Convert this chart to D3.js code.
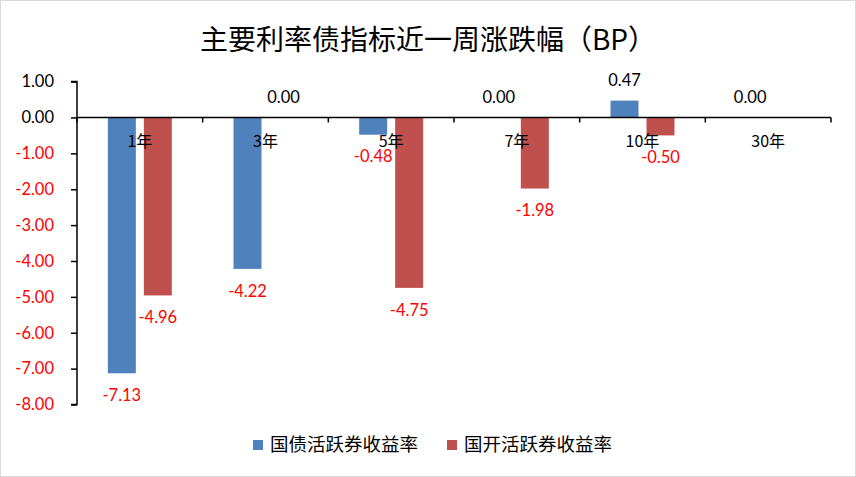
<!DOCTYPE html>
<html><head><meta charset="utf-8">
<script src="https://cdn.jsdelivr.net/npm/d3@7"></script>
<style>
body{margin:0;background:#fff;}
svg{display:block;}
</style></head>
<body>
<svg id="chart" width="856" height="477"></svg>
<script>
const categories = ["1年","3年","5年","7年","10年","30年"];
const seriesNames = ["国债活跃券收益率","国开活跃券收益率"];
const govBond = [-7.13, -4.22, -0.48, 0.00, 0.47, 0.00];
const cdbBond = [-4.96, 0.00, -4.75, -1.98, -0.50, null];
const yTicks = [1,0,-1,-2,-3,-4,-5,-6,-7,-8];
const title = "主要利率债指标近一周涨跌幅（BP）";
const colors = ["#4f81bd", "#c0504d"];

const svg = d3.select("#chart");
const W = 856, H = 477;
const numFont = "Lato, 'Liberation Sans', sans-serif";
const cjkFont = "'Noto Sans CJK SC', sans-serif";
const fmt = v => d3.format(".2f")(v).replace("\u2212", "-");

svg.append("rect").attr("x",0.5).attr("y",0.5).attr("width",W-1).attr("height",H-1)
  .attr("fill","#fff").attr("stroke","#d9d9d9").attr("stroke-width",1);

svg.append("text").attr("x",428).attr("y",50).attr("text-anchor","middle")
  .attr("font-family",cjkFont).attr("font-size",28).attr("fill","#000").text(title);

const x = d3.scaleBand().domain(categories).range([77, 831]).paddingInner(0).paddingOuter(0);
const y = d3.scaleLinear().domain([-8, 1]).range([404.5, 81.6]);

const barW = 28, offsets = [-18, 18];
const series = [govBond, cdbBond];
series.forEach((vals, si) => {
  const g = svg.append("g");
  vals.forEach((v, i) => {
    if (v === null || v === 0) return;
    const cx = x(categories[i]) + x.bandwidth()/2 + offsets[si];
    const y0 = y(0), y1 = y(v);
    g.append("rect").attr("x", cx - barW/2).attr("width", barW)
      .attr("y", Math.min(y0,y1)).attr("height", Math.abs(y1-y0))
      .attr("fill", colors[si]);
  });
});

// x axis
const xAxisG = svg.append("g").attr("transform",`translate(0,${y(0)})`);
xAxisG.append("line").attr("x1",77).attr("x2",831).attr("y1",0).attr("y2",0)
  .attr("stroke","#000").attr("stroke-width",1.5);
const tickXs = categories.map(c => x(c)).concat([x(categories[categories.length-1]) + x.bandwidth()]);
tickXs.forEach(tx => {
  xAxisG.append("line").attr("x1",tx).attr("x2",tx).attr("y1",0).attr("y2",5)
    .attr("stroke","#000").attr("stroke-width",1.5);
});
categories.forEach(c => {
  xAxisG.append("text").attr("x", x(c)+x.bandwidth()/2).attr("y", 30)
    .attr("text-anchor","middle").attr("font-family",cjkFont).attr("font-size",16)
    .attr("fill","#000").text(c);
});

// y axis
const yAxis = d3.axisLeft(y).tickValues(yTicks).tickSize(6).tickFormat(fmt);
const yAxisG = svg.append("g").attr("transform","translate(77,0)").call(yAxis);
yAxisG.select(".domain").attr("stroke","#000").attr("stroke-width",1.5).attr("d",`M-6,${y(1)}H0V${y(-8)}H-6`);
yAxisG.selectAll(".tick line").attr("stroke","#000").attr("stroke-width",1.5);
yAxisG.selectAll(".tick text").attr("x",-23).attr("font-family",numFont).attr("font-size",16.5)
  .attr("fill", d => d < 0 ? "#ff0000" : "#000");

// data labels
series.forEach((vals, si) => {
  vals.forEach((v, i) => {
    if (v === null) return;
    const cx = x(categories[i]) + x.bandwidth()/2 + offsets[si];
    const yy = v < 0 ? y(v) + 22 : y(v) - 20;
    svg.append("text").attr("x", cx).attr("y", yy).attr("dy","0.35em")
      .attr("text-anchor","middle").attr("font-family",numFont).attr("font-size",16.5)
      .attr("fill", v < 0 ? "#ff0000" : "#000").text(fmt(v));
  });
});

// legend
const legendItems = [{x:253, name:seriesNames[0], c:colors[0]},{x:447, name:seriesNames[1], c:colors[1]}];
legendItems.forEach(it => {
  svg.append("rect").attr("x",it.x).attr("y",440).attr("width",10).attr("height",10).attr("fill",it.c);
  svg.append("text").attr("x",it.x+17).attr("y",445).attr("dy","0.35em")
    .attr("font-family",cjkFont).attr("font-size",18.5).attr("fill","#000").text(it.name);
});
</script>
</body></html>
